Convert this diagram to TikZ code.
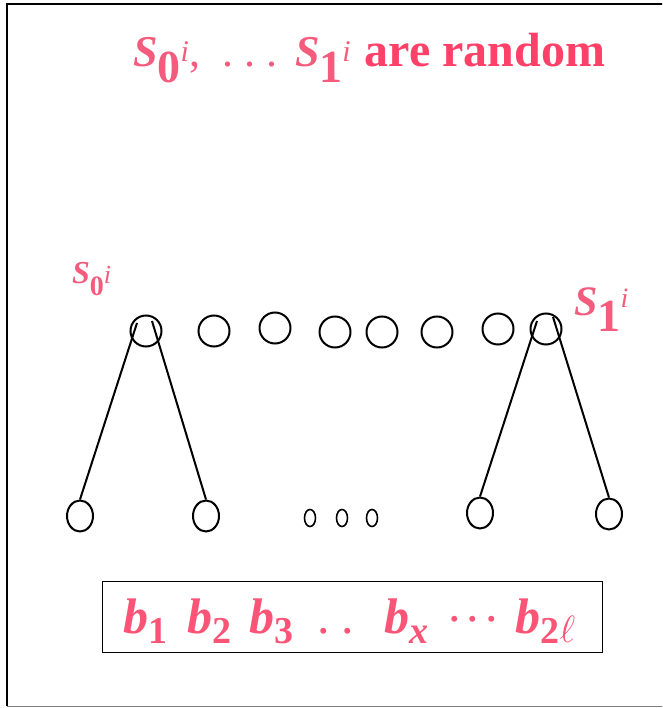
\documentclass[tikz,border=0pt]{standalone}
\usepackage{fontspec}
\setmainfont{Liberation Serif}
\usetikzlibrary{shapes.geometric}

\definecolor{titlepink}{RGB}{255,64,104}
\definecolor{labelpink}{RGB}{243,92,124}
\definecolor{bitpink}{RGB}{250,84,118}

% S with a bold digit index and an italic i on it
% #1 size of S, #2 digit, #3 digit size, #4 digit drop, #5 i raise, #6 i size
\newcommand\sidx[6]{%
  {\fontsize{#1}{#1}\selectfont\bfseries\itshape S}%
  \raisebox{-#4pt}{\fontsize{#3}{#3}\selectfont\bfseries #2}%
  \raisebox{#5pt}{\fontsize{#6}{#6}\selectfont\itshape i}}
% bold italic b with a lowered index
\newcommand\bvar[1]{{\itshape b}\raisebox{-10pt}{\fontsize{38}{38}\selectfont\upshape #1}}

\begin{document}
\begin{tikzpicture}[
        x=1pt, y=-1pt,
        seedcircle/.style={draw, circle, line width=2pt, minimum size=31pt, inner sep=0pt},
        leafcircle/.style={draw, ellipse, line width=2pt, minimum width=26pt, minimum height=31pt, inner sep=0pt},
        dotcircle/.style={draw, ellipse, line width=1.6pt, minimum width=11pt, minimum height=17pt, inner sep=0pt},
        branch/.style={line width=2pt},
        labeltext/.style={text=labelpink, inner sep=0pt}
    ]

    \useasboundingbox (0,0) rectangle (662,708);
    \clip (0,0) rectangle (662,708);

    % ==========================================
    % FRAME
    % ==========================================
    \draw[line width=1.8pt] (680,4) -- (7,4) -- (7,706);
    \draw[gray, line width=1pt] (7,706.5) -- (680,706.5);

    % ==========================================
    % TITLE
    % ==========================================
    \node[labeltext, anchor=base west] (title) at (133,67)
        {\sidx{44}{0}{46}{16}{5}{30}{\fontsize{44}{44}\selectfont,\hspace{22pt}.\hspace{11pt}.\hspace{11pt}.\hspace{18pt}}%
         \sidx{44}{1}{46}{16}{5}{30}\hspace{14pt}%
         {\color{titlepink}\fontsize{48}{48}\selectfont\bfseries are random}};

    % ==========================================
    % TOP ROW: seeds
    % ==========================================
    \node[seedcircle] (s1) at (146,331) {};
    \node[seedcircle] (s2) at (214,331) {};
    \node[seedcircle] (s3) at (275,328) {};
    \node[seedcircle] (s4) at (335,332) {};
    \node[seedcircle] (s5) at (382,332) {};
    \node[seedcircle] (s6) at (437,332) {};
    \node[seedcircle] (s7) at (498,329) {};
    \node[seedcircle] (s8) at (546,329) {};

    \node[labeltext, anchor=base west] (lab0) at (72,283) {\sidx{32}{0}{28}{12}{0}{26}};
    \node[labeltext, anchor=base west] (lab1) at (574,315) {\sidx{42}{1}{46}{16}{8}{28}};

    % ==========================================
    % BOTTOM ROW: leaves
    % ==========================================
    \node[leafcircle] (l1) at (80,516) {};
    \node[leafcircle] (l2) at (206,516) {};
    \node[leafcircle] (l3) at (480,513) {};
    \node[leafcircle] (l4) at (609,514) {};

    \node[dotcircle] (d1) at (310,518) {};
    \node[dotcircle] (d2) at (342,518) {};
    \node[dotcircle] (d3) at (372,518) {};

    \draw[branch] ([shift={(-9,-8)}]s1.center) -- (l1.north);
    \draw[branch] ([shift={(6,-10)}]s1.center) -- (l2.north);
    \draw[branch] ([shift={(-9,-8)}]s8.center) -- (l3.north);
    \draw[branch] ([shift={(7,-12)}]s8.center) -- (l4.north);

    % ==========================================
    % BITS
    % ==========================================
    \node[draw, line width=0.6pt, minimum width=500pt, minimum height=71pt] (bitbox) at (352,616.5) {};
    \node[text=bitpink, anchor=base west, inner sep=0pt] (bits) at (123,633)
        {\fontsize{50}{50}\selectfont\bfseries
         \bvar{1}\hspace{20pt}\bvar{2}\hspace{18pt}\bvar{3}\hspace{24pt}%
         {\mdseries .\hspace{12pt}.}\hspace{30pt}%
         \bvar{\itshape x}\hspace{20pt}%
         \raisebox{12pt}{\mdseries .\hspace{6pt}.\hspace{6pt}.}\hspace{18pt}%
         \bvar{2\raisebox{1pt}{\scalebox{2.2}{\fontsize{17}{17}\selectfont$\ell$}}}};

\end{tikzpicture}
\end{document}
